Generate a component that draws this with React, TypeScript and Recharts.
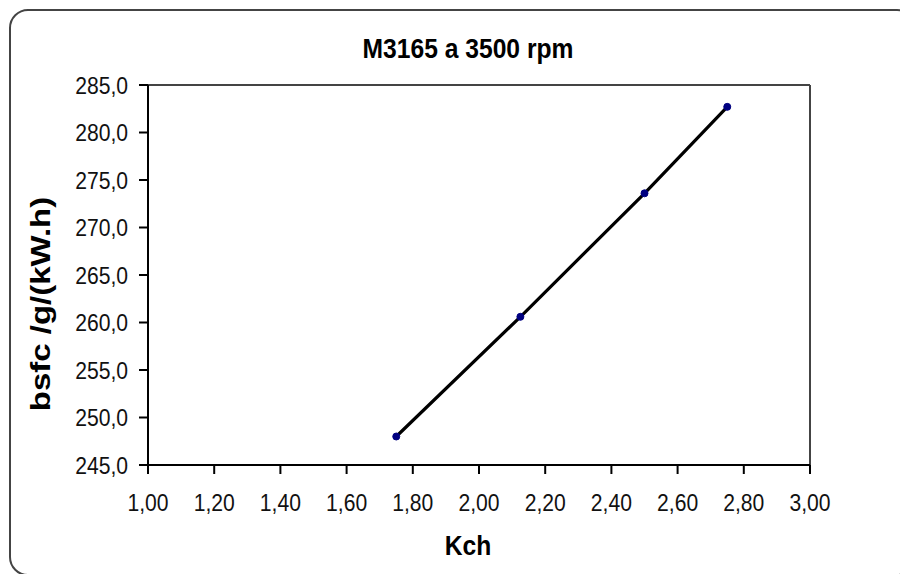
import { LineChart, Line, XAxis, YAxis, ReferenceLine } from "recharts";

const kch = [1.75, 2.125, 2.5, 2.75];
const bsfc = [248.0, 260.6, 273.6, 282.7];
const xTicks = [1.0, 1.2, 1.4, 1.6, 1.8, 2.0, 2.2, 2.4, 2.6, 2.8, 3.0];
const yTicks = [245, 250, 255, 260, 265, 270, 275, 280, 285];

const data = kch.map((k, i) => ({ kch: k, bsfc: bsfc[i] }));

const FONT = "'Liberation Sans', Arial, sans-serif";
// the source picture is squeezed sideways a bit, so text gets a horizontal scale
const SX = 0.88;

function YTick(props: any) {
  const { y, payload } = props;
  return (
    <text
      transform={`translate(128,${y + 8.6}) scale(${SX},1)`}
      textAnchor="end"
      fontFamily={FONT}
      fontSize={24}
      fill="#111"
    >
      {payload.value.toFixed(1).replace(".", ",")}
    </text>
  );
}

function XTick(props: any) {
  const { x, payload } = props;
  return (
    <text
      transform={`translate(${x},511) scale(${SX},1)`}
      textAnchor="middle"
      fontFamily={FONT}
      fontSize={24}
      fill="#111"
    >
      {payload.value.toFixed(2).replace(".", ",")}
    </text>
  );
}

export default function App() {
  return (
    <div style={{ position: "relative", width: 900, height: 574, background: "#fff", overflow: "hidden" }}>
      <style>{"body{margin:0}"}</style>
      <LineChart
        width={900}
        height={574}
        data={data}
        margin={{ top: 85, right: 90, left: 0, bottom: 79 }}
      >
        <XAxis
          dataKey="kch"
          type="number"
          domain={[1, 3]}
          ticks={xTicks}
          interval={0}
          height={30}
          tickSize={9}
          axisLine={{ stroke: "#000", strokeWidth: 2 }}
          tickLine={{ stroke: "#000", strokeWidth: 2 }}
          tick={<XTick />}
          label={{
            content: () => (
              <text
                transform={`translate(468,555) scale(${SX},1)`}
                textAnchor="middle"
                fontFamily={FONT}
                fontWeight="bold"
                fontSize={28}
                fill="#000"
              >
                Kch
              </text>
            ),
          }}
        />
        <YAxis
          type="number"
          domain={[245, 285]}
          ticks={yTicks}
          interval={0}
          width={148}
          tickSize={9}
          axisLine={{ stroke: "#000", strokeWidth: 2 }}
          tickLine={{ stroke: "#000", strokeWidth: 2 }}
          tick={<YTick />}
          label={{
            content: () => (
              <text
                transform="translate(50,304) rotate(-90) scale(1,0.82)"
                textAnchor="middle"
                fontFamily={FONT}
                fontWeight="bold"
                fontSize={33}
                fill="#000"
              >
                bsfc /g/(kW.h)
              </text>
            ),
          }}
        />
        <ReferenceLine y={285} stroke="#444" strokeWidth={2} />
        <ReferenceLine x={3} stroke="#444" strokeWidth={2} />
        <Line
          dataKey="bsfc"
          type="linear"
          stroke="#000"
          strokeWidth={3.2}
          dot={{ r: 3.5, fill: "#000080", stroke: "#000080", strokeWidth: 1 }}
          isAnimationActive={false}
        />
      </LineChart>
      <svg
        width={900}
        height={574}
        style={{ position: "absolute", left: 0, top: 0, pointerEvents: "none" }}
      >
        <rect x={10} y={10} width={905} height={565} rx={18} fill="none" stroke="#444" strokeWidth={2} />
        <text
          transform={`translate(468,58) scale(${SX},1)`}
          textAnchor="middle"
          fontFamily={FONT}
          fontWeight="bold"
          fontSize={28}
          fill="#000"
        >
          M3165 a 3500 rpm
        </text>
      </svg>
    </div>
  );
}
